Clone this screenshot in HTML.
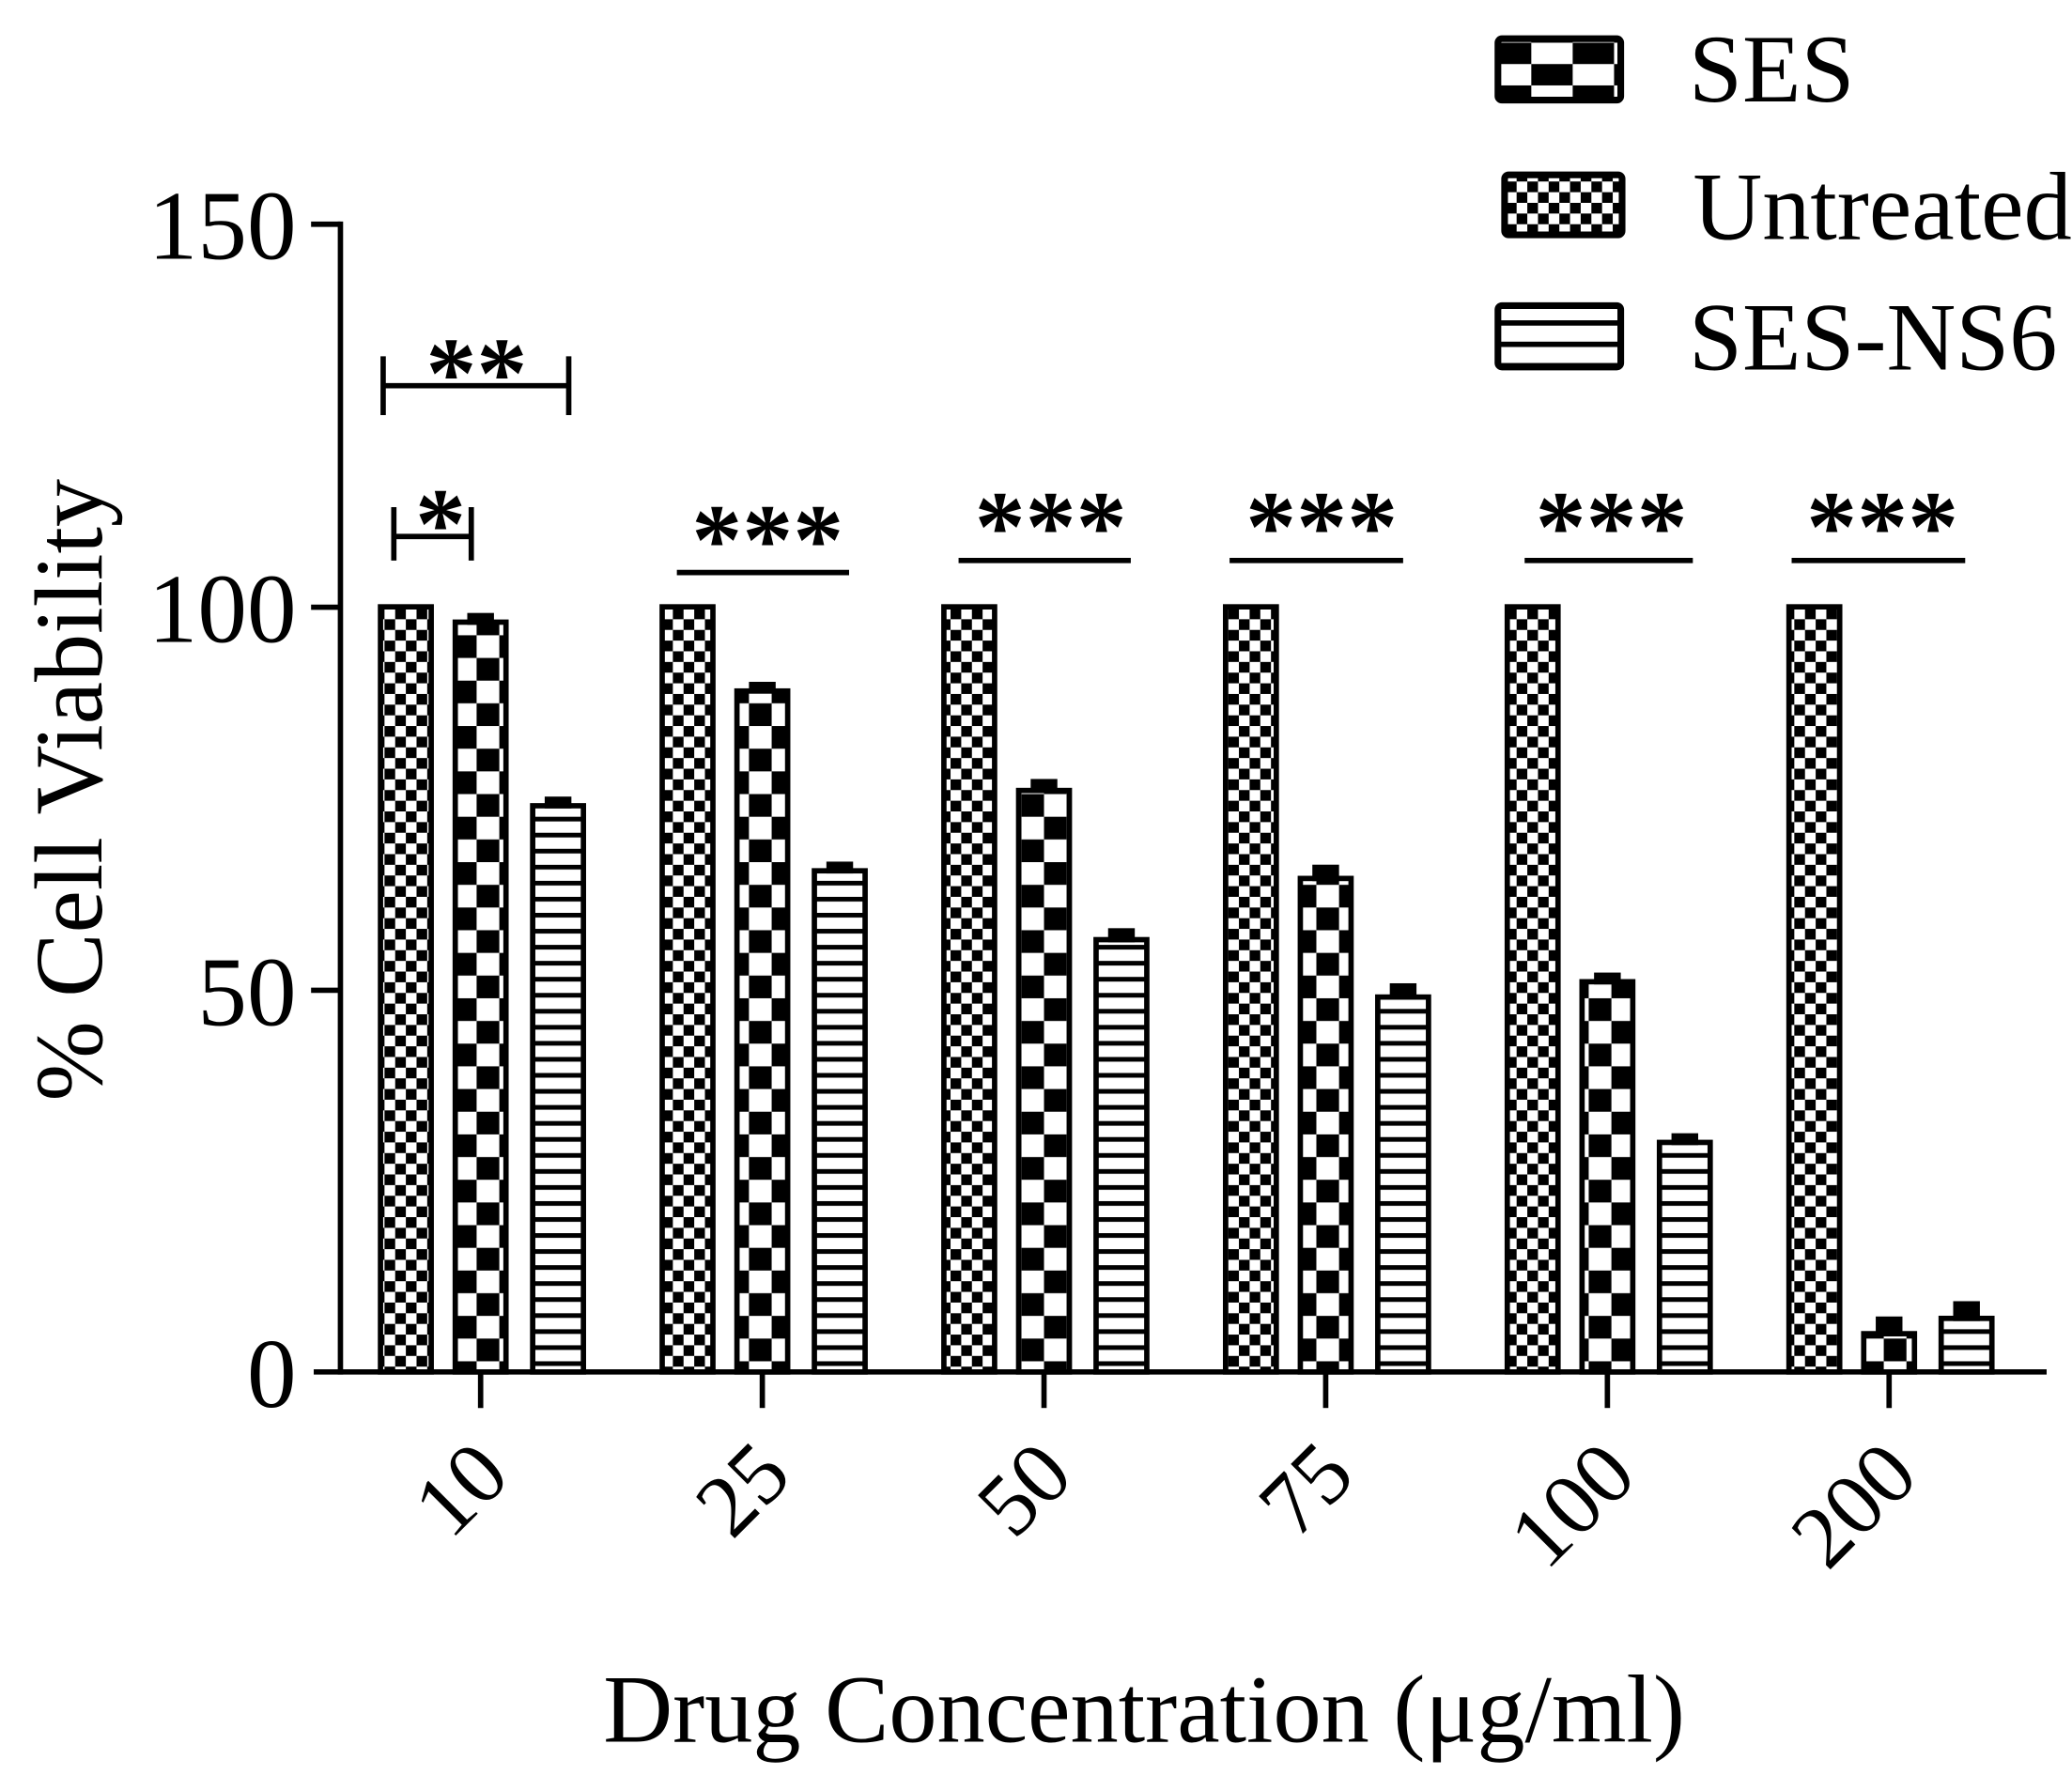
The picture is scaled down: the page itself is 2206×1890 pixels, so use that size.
<!DOCTYPE html>
<html><head><style>html,body{margin:0;padding:0;background:#fff}svg{display:block}</style></head>
<body>
<svg width="2206" height="1890" viewBox="0 0 1552 1330" preserveAspectRatio="none" xmlns="http://www.w3.org/2000/svg" font-family="Liberation Serif, serif">
<defs>
<pattern id="ses" width="34" height="34" patternUnits="userSpaceOnUse">
<rect width="34" height="34" fill="#fff"/><rect width="17" height="17" fill="#000"/><rect x="17" y="17" width="17" height="17" fill="#000"/></pattern>
<pattern id="unt" width="16" height="16" patternUnits="userSpaceOnUse">
<rect width="16" height="16" fill="#fff"/><rect width="8" height="8" fill="#000"/><rect x="8" y="8" width="8" height="8" fill="#000"/></pattern>
<pattern id="ns" width="10" height="12" patternUnits="userSpaceOnUse">
<rect width="10" height="12" fill="#fff"/><rect y="0" width="10" height="3.5" fill="#000"/></pattern>
<pattern id="sesL" width="62" height="32" patternUnits="userSpaceOnUse">
<rect width="62" height="32" fill="#fff"/><rect width="31" height="16" fill="#000"/><rect x="31" y="16" width="31" height="16" fill="#000"/></pattern>
<pattern id="nsL" width="10" height="16" patternUnits="userSpaceOnUse">
<rect width="10" height="16" fill="#fff"/><rect y="0" width="10" height="4" fill="#000"/></pattern>
</defs>
<g id="bars"></g>
<script>
var g=document.getElementById('bars');var ns='http://www.w3.org/2000/svg';
function el(t,a){var e=document.createElementNS(ns,t);for(var k in a)e.setAttribute(k,a[k]);g.appendChild(e);return e;}
var ses=[98,89,76,64.5,51,5],nsv=[74,65.5,56.5,49,30,7],err=[0.8,0.8,1,1.2,0.8,1.5];
var y=function(v){return 1028-v*5.733;};
for(var i=0;i<6;i++){var c=360+211*i;
[[c-56,100,'unt',0],[c,ses[i],'ses',err[i]],[c+58,nsv[i],'ns',err[i]]].forEach(function(b){
var x=b[0]-19,top=y(b[1]);
el('rect',{x:x,y:top,width:38,height:1028-top,fill:'url(#'+b[2]+')',stroke:'#000','stroke-width':4});
if(b[3]){var t=y(b[1]+b[3]*1.5);el('rect',{x:b[0]-10,y:t,width:20,height:top-t+2,fill:'#000'});}
});
el('line',{x1:c,y1:1028,x2:c,y2:1055,stroke:'#000','stroke-width':4});
}
</script>
<line x1="255" y1="166" x2="255" y2="1030" stroke="#000" stroke-width="4"/>
<line x1="235" y1="1028" x2="1533" y2="1028" stroke="#000" stroke-width="4"/>
<g stroke="#000" stroke-width="4">
<line x1="233" y1="168" x2="255" y2="168"/><line x1="233" y1="455" x2="255" y2="455"/><line x1="233" y1="742" x2="255" y2="742"/>
</g>
<g font-size="74" text-anchor="end">
<text x="222" y="194">150</text><text x="222" y="481">100</text><text x="222" y="768">50</text><text x="222" y="1054">0</text>
</g>
<text transform="translate(76,592) rotate(-90)" font-size="72" text-anchor="middle">% Cell Viability</text>
<g font-size="66" text-anchor="end">
<text transform="translate(384,1108) rotate(-45)">10</text>
<text transform="translate(595,1108) rotate(-45)">25</text>
<text transform="translate(806,1108) rotate(-45)">50</text>
<text transform="translate(1017,1108) rotate(-45)">75</text>
<text transform="translate(1228,1108) rotate(-45)">100</text>
<text transform="translate(1439,1108) rotate(-45)">200</text>
</g>
<text x="857" y="1305" font-size="72" text-anchor="middle">Drug Concentration (μg/ml)</text>
<g stroke="#000" stroke-width="4">
<line x1="287" y1="289" x2="426" y2="289"/><line x1="287" y1="267" x2="287" y2="311"/><line x1="426" y1="267" x2="426" y2="311"/>
<line x1="295" y1="402" x2="353" y2="402"/><line x1="295" y1="380" x2="295" y2="420"/><line x1="353" y1="380" x2="353" y2="420"/>
<line x1="507" y1="429" x2="636" y2="429"/><line x1="718" y1="420" x2="847" y2="420"/><line x1="921" y1="420" x2="1051" y2="420"/>
<line x1="1142" y1="420" x2="1268" y2="420"/><line x1="1342" y1="420" x2="1472" y2="420"/>
</g>
<g font-size="76" font-weight="bold" text-anchor="middle">
<text x="357" y="305">**</text><text x="330" y="418">*</text>
<text x="575" y="430">***</text><text x="787" y="420">***</text><text x="990" y="420">***</text>
<text x="1207" y="420">***</text><text x="1410" y="420">***</text>
</g>
<rect x="1122" y="29" width="92" height="46" rx="3" fill="url(#sesL)" stroke="#000" stroke-width="5"/>
<rect x="1127" y="131" width="88" height="45" rx="3" fill="url(#unt)" stroke="#000" stroke-width="5"/>
<rect x="1122" y="229" width="92" height="46" rx="3" fill="url(#nsL)" stroke="#000" stroke-width="5"/>
<g font-size="72">
<text x="1265" y="76">SES</text><text x="1268" y="179">Untreated</text><text x="1265" y="277">SES-NS6</text>
</g>
</svg>
</body></html>
